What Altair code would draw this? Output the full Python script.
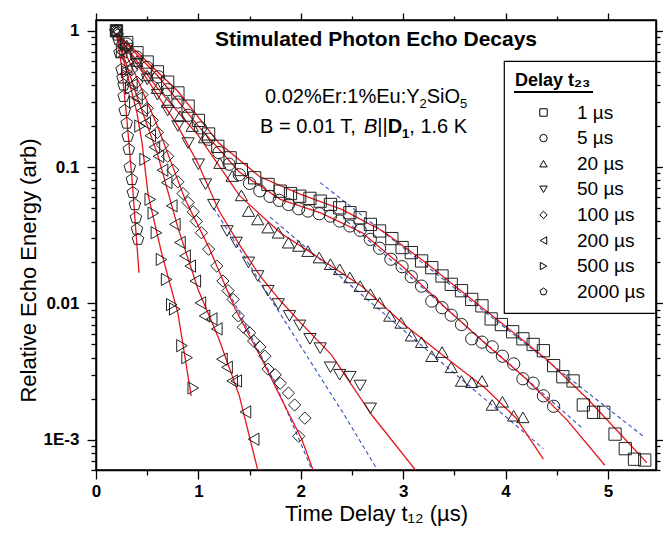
import altair as alt
import pandas as pd

FONT = "Liberation Sans"

series = ["1 µs", "5 µs", "20 µs", "50 µs", "100 µs", "200 µs", "500 µs", "2000 µs"]
PENTAGON = "M0,-1L0.951,-0.309L0.588,0.809L-0.588,0.809L-0.951,-0.309Z"
shapes = ["square", "circle", "triangle-up", "triangle-down", "diamond",
          "triangle-left", "triangle-right", PENTAGON]

# ---- measured echo energies (t in µs, relative energy) ----
t_1 = [0.2, 0.3, 0.4, 0.5, 0.6, 0.7, 0.8, 0.9, 1.0, 1.1, 1.19, 1.31, 1.42, 1.55, 1.68,
       1.80, 1.90, 1.99, 2.09, 2.19, 2.29, 2.38, 2.48, 2.58, 2.68, 2.77, 2.89, 2.99, 3.08,
       3.18, 3.28, 3.38, 3.47, 3.57, 3.67, 3.77, 3.86, 3.96, 4.07, 4.17, 4.27, 4.37, 4.47,
       4.56, 4.66, 4.76, 4.86, 4.96, 5.07, 5.17, 5.26, 5.36]
e_1 = [1.0, 0.82, 0.69, 0.59, 0.50, 0.42, 0.35, 0.28, 0.22, 0.175, 0.142, 0.117, 0.096,
       0.0835, 0.0746, 0.0666, 0.064, 0.0612, 0.059, 0.0563, 0.0532, 0.0503, 0.0463,
       0.0425, 0.038, 0.034, 0.0299, 0.0257, 0.0236, 0.0205, 0.0183, 0.0159, 0.0138,
       0.0124, 0.0107, 0.0096, 0.0077, 0.0070, 0.0062, 0.0055, 0.0050, 0.0045, 0.0035,
       0.0029, 0.0027, 0.0018, 0.00159, 0.00159, 0.0011, 0.00086, 0.00072, 0.00071]

t_5 = [0.2, 0.3, 0.4, 0.5, 0.61, 0.7, 0.8, 0.9, 1.02, 1.1, 1.2, 1.3, 1.4, 1.5, 1.6, 1.7,
       1.79, 1.88, 1.98, 2.07, 2.18, 2.29, 2.38, 2.48, 2.58, 2.68, 2.77, 2.88, 2.99, 3.08,
       3.18, 3.28, 3.38, 3.47, 3.57, 3.67, 3.77, 3.87, 3.97, 4.08, 4.17, 4.27, 4.37, 4.47]
e_5 = [1.0, 0.80, 0.64, 0.54, 0.46, 0.37, 0.30, 0.24, 0.194, 0.16, 0.128, 0.105, 0.088,
       0.076, 0.067, 0.061, 0.057, 0.0532, 0.0495, 0.0476, 0.0455, 0.0437, 0.0402, 0.0370,
       0.0344, 0.0295, 0.0254, 0.0211, 0.0186, 0.0157, 0.0134, 0.0104, 0.0093, 0.0082,
       0.0070, 0.0055, 0.0052, 0.0048, 0.0041, 0.0036, 0.0028, 0.0026, 0.0021, 0.00176]

t_20 = [0.2, 0.3, 0.4, 0.5, 0.6, 0.7, 0.82, 0.94, 1.06, 1.21, 1.33, 1.42, 1.49, 1.58,
        1.68, 1.78, 1.88, 1.98, 2.07, 2.18, 2.29, 2.38, 2.48, 2.58, 2.68, 2.77, 2.87, 2.98,
        3.08, 3.18, 3.28, 3.38, 3.47, 3.57, 3.67, 3.77, 3.87, 3.97, 4.08, 4.17]
e_20 = [1.0, 0.78, 0.6, 0.47, 0.38, 0.3, 0.236, 0.2, 0.165, 0.107, 0.086, 0.062, 0.0476,
        0.0413, 0.036, 0.033, 0.0279, 0.0264, 0.0242, 0.0217, 0.0194, 0.0178, 0.0155,
        0.0134, 0.0117, 0.0101, 0.0081, 0.0072, 0.0058, 0.0052, 0.0041, 0.0044, 0.0034,
        0.0027, 0.00264, 0.0027, 0.0018, 0.0019, 0.0015, 0.00146]

t_50 = [0.2, 0.3, 0.4, 0.5, 0.6, 0.7, 0.8, 0.9, 1.0, 1.07, 1.15, 1.28, 1.37, 1.49, 1.58,
        1.68, 1.78, 1.89, 1.99, 2.09, 2.19, 2.29, 2.38, 2.48, 2.58, 2.68]
e_50 = [1.0, 0.74, 0.57, 0.44, 0.34, 0.26, 0.2, 0.15, 0.105, 0.075, 0.053, 0.034, 0.028,
        0.020, 0.0159, 0.0124, 0.0099, 0.0081, 0.0069, 0.0055, 0.0047, 0.0034, 0.0030,
        0.0029, 0.0025, 0.0017]

t_100 = [0.2, 0.25, 0.3, 0.35, 0.4, 0.45, 0.5, 0.55, 0.6, 0.65, 0.7, 0.75, 0.8, 0.85, 0.90,
         0.95, 0.98, 1.03, 1.10, 1.18, 1.24, 1.29, 1.34, 1.39, 1.44, 1.50, 1.54, 1.60, 1.65,
         1.68, 1.75, 1.80, 1.88, 1.94, 1.98, 2.04]
e_100 = [1.0, 0.8, 0.64, 0.52, 0.42, 0.34, 0.27, 0.22, 0.18, 0.145, 0.12, 0.095, 0.078,
         0.064, 0.055, 0.047, 0.040, 0.033, 0.025, 0.0188, 0.0146, 0.0124, 0.0107, 0.0081,
         0.0067, 0.0061, 0.0053, 0.0048, 0.0041, 0.0033, 0.0030, 0.0026, 0.0022, 0.0018,
         0.00106, 0.00144]

t_200 = [0.2, 0.25, 0.3, 0.35, 0.4, 0.45, 0.48, 0.53, 0.57, 0.61, 0.65, 0.69, 0.74, 0.77,
         0.82, 0.87, 0.92, 0.97, 1.02, 1.06, 1.13, 1.18, 1.23, 1.28, 1.33, 1.37, 1.46, 1.54]
e_200 = [1.0, 0.7, 0.52, 0.4, 0.32, 0.26, 0.21, 0.17, 0.14, 0.12, 0.095, 0.077, 0.052,
         0.038, 0.028, 0.0223, 0.0188, 0.0146, 0.0101, 0.0081, 0.0077, 0.0065, 0.0039,
         0.0034, 0.0027, 0.0027, 0.0016, 0.00101]

t_500 = [0.2, 0.25, 0.3, 0.34, 0.38, 0.43, 0.48, 0.53, 0.56, 0.59, 0.64, 0.69, 0.74, 0.77,
         0.84, 0.89, 0.95]
e_500 = [1.0, 0.7, 0.5, 0.38, 0.3, 0.2, 0.114, 0.058, 0.046, 0.033, 0.021, 0.015, 0.0098,
         0.0091, 0.0049, 0.0040, 0.0024]

t_2000 = [0.19, 0.21, 0.22, 0.23, 0.25, 0.26, 0.27, 0.27, 0.28, 0.30, 0.31, 0.32, 0.33,
          0.35, 0.36, 0.38, 0.39, 0.40, 0.41]
e_2000 = [1.0, 0.93, 0.86, 0.69, 0.52, 0.45, 0.40, 0.33, 0.26, 0.21, 0.168, 0.135, 0.10,
          0.081, 0.065, 0.053, 0.0425, 0.035, 0.0295]

# ---- model fits (red solid) ----
f_1_t = [0.2, 0.4, 0.8, 1.2, 1.6, 2.0, 2.4, 2.8, 3.2, 3.6, 4.0, 4.4, 4.8, 5.2, 5.38]
f_1_e = [0.95, 0.70, 0.36, 0.15, 0.085, 0.063, 0.049, 0.034, 0.0205, 0.0118, 0.0068,
         0.0039, 0.0020, 0.00095, 0.00068]
f_5_t = [0.2, 0.6, 1.0, 1.4, 1.8, 2.2, 2.6, 3.0, 3.4, 3.8, 4.2, 4.6, 4.97]
f_5_e = [0.95, 0.47, 0.2, 0.092, 0.058, 0.046, 0.033, 0.0185, 0.0095, 0.0051, 0.0028,
         0.0014, 0.00065]
f_20_t = [0.2, 0.6, 1.0, 1.4, 1.8, 2.2, 2.6, 3.0, 3.4, 3.8, 4.1, 4.37]
f_20_e = [0.95, 0.38, 0.17, 0.062, 0.033, 0.021, 0.0133, 0.0071, 0.0041, 0.0024, 0.00145,
          0.00072]
f_50_t = [0.2, 0.5, 0.8, 1.0, 1.2, 1.4, 1.6, 1.8, 2.0, 2.3, 2.7, 3.12]
f_50_e = [0.95, 0.44, 0.2, 0.105, 0.048, 0.027, 0.016, 0.0105, 0.0072, 0.0042, 0.0015,
          0.0006]
f_100_t = [0.2, 0.4, 0.6, 0.87, 1.1, 1.36, 1.62, 1.81, 2.01, 2.12]
f_100_e = [0.95, 0.45, 0.2, 0.058, 0.026, 0.0091, 0.0039, 0.0020, 0.00101, 0.0006]
f_200_t = [0.2, 0.4, 0.6, 0.8, 1.0, 1.2, 1.4, 1.58]
f_200_e = [0.95, 0.33, 0.125, 0.036, 0.0125, 0.0055, 0.0021, 0.0006]
f_500_t = [0.2, 0.3, 0.4, 0.45, 0.51, 0.64, 0.8, 0.93]
f_500_e = [0.95, 0.5, 0.25, 0.15, 0.062, 0.0236, 0.0085, 0.0021]
f_2000_t = [0.2, 0.25, 0.3, 0.35, 0.42]
f_2000_e = [0.95, 0.55, 0.23, 0.085, 0.0168]

# ---- single-exponential tails (blue dashed) ----
d_1_t = [2.19, 5.36]
d_1_e = [0.077, 0.00104]
d_5_t = [2.45, 4.76]
d_5_e = [0.040, 0.0012]
d_20_t = [1.7, 4.37]
d_20_e = [0.043, 0.00086]
d_50_t = [1.15, 1.62, 2.43, 2.75]
d_50_e = [0.05, 0.0137, 0.0015, 0.0006]
d_100_t = [1.3, 1.76, 2.11]
d_100_e = [0.012, 0.0025, 0.0006]

x_ticks = [0.0, 0.5, 1.0, 1.5, 2.0, 2.5, 3.0, 3.5, 4.0, 4.5, 5.0]
y_ticks = [float(f"{k}e{e}") for e in (-4, -3, -2, -1) for k in range(1, 10)
           if 6e-4 <= float(f"{k}e{e}") <= 1.2] + [1.0]


def frame(pairs):
    rows = []
    for name, ts, es in pairs:
        if len(ts) != len(es):
            raise ValueError(f"length mismatch in {name}: {len(ts)} vs {len(es)}")
        for i, (t, e) in enumerate(zip(ts, es)):
            rows.append({"series": name, "t": t, "e": e, "i": i})
    return pd.DataFrame(rows)


pts = frame([(series[0], t_1, e_1), (series[1], t_5, e_5), (series[2], t_20, e_20),
             (series[3], t_50, e_50), (series[4], t_100, e_100), (series[5], t_200, e_200),
             (series[6], t_500, e_500), (series[7], t_2000, e_2000)])
fits = frame([(series[0], f_1_t, f_1_e), (series[1], f_5_t, f_5_e), (series[2], f_20_t, f_20_e),
              (series[3], f_50_t, f_50_e), (series[4], f_100_t, f_100_e),
              (series[5], f_200_t, f_200_e), (series[6], f_500_t, f_500_e),
              (series[7], f_2000_t, f_2000_e)])
dashes = frame([(series[0], d_1_t, d_1_e), (series[1], d_5_t, d_5_e), (series[2], d_20_t, d_20_e),
                (series[3], d_50_t, d_50_e), (series[4], d_100_t, d_100_e)])

x_scale = alt.Scale(domain=[0, 5.47], nice=False, zero=False)
y_scale = alt.Scale(type="log", domain=[6e-4, 1.2], nice=False)

X_MAJOR = "abs(datum.value - round(datum.value)) < 1e-6"
Y_DEC = "abs(log(datum.value)/LN10 - round(log(datum.value)/LN10)) < 1e-6"

common = dict(domainColor="black", domainWidth=1.5, tickColor="black", tickWidth=1.3,
              grid=False, labelFont=FONT, titleFont=FONT, labelColor="black",
              titleColor="black", labelOverlap=False, labelFlush=False)

x_bottom = alt.Axis(orient="bottom", values=x_ticks, title="Time Delay t₁₂ (µs)",
                    labelExpr=f"{X_MAJOR} ? format(datum.value, 'd') : ''",
                    tickSize={"condition": {"test": X_MAJOR, "value": 9}, "value": 5},
                    labelFontSize=17, labelFontWeight="bold", labelPadding=4,
                    titleFontSize=22, titleFontWeight="normal", titlePadding=4, **common)
y_left = alt.Axis(orient="left", values=y_ticks, title="Relative Echo Energy (arb)",
                  labelExpr=(f"{Y_DEC} ? (datum.value > 0.5 ? '1' : datum.value > 0.05 ? '0.1'"
                             " : datum.value > 0.005 ? '0.01' : '1E-3') : ''"),
                  tickSize={"condition": {"test": Y_DEC, "value": 9}, "value": 5},
                  labelFontSize=17, labelFontWeight="bold", labelPadding=8,
                  titleFontSize=22, titleFontWeight="normal", titleX=-68, titleY=250,
                  titleAngle=270, titleAlign="center", titleBaseline="middle", **common)
x_top = alt.Axis(orient="top", values=x_ticks, title="", labels=False,
                 tickSize={"condition": {"test": X_MAJOR, "value": 7}, "value": 4}, **common)
y_right = alt.Axis(orient="right", values=y_ticks, title="", labels=False,
                   tickSize={"condition": {"test": Y_DEC, "value": 7}, "value": 4}, **common)

legend = alt.Legend(title="Delay t₂₃", orient="none", legendX=408, legendY=41,
                    strokeColor="black", padding=11,
                    titleFont=FONT, titleFontSize=18, titleFontWeight="bold", titleColor="black",
                    titlePadding=13, labelFont=FONT, labelFontSize=19, labelColor="black",
                    symbolSize=55, symbolStrokeColor="black", symbolStrokeWidth=1,
                    symbolOffset=19, labelOffset=24, rowPadding=5.6)

points = alt.Chart(pts).mark_point(filled=False, size=150, strokeWidth=1, color="#222",
                                   opacity=1, clip=True).encode(
    x=alt.X("t:Q", scale=x_scale, axis=x_bottom),
    y=alt.Y("e:Q", scale=y_scale, axis=y_left),
    shape=alt.Shape("series:N", scale=alt.Scale(domain=series, range=shapes),
                    sort=series, legend=legend),
)

fit_lines = alt.Chart(fits).mark_line(color="#e8161b", strokeWidth=1.3, clip=True).encode(
    x=alt.X("t:Q", scale=x_scale, axis=x_top),
    y=alt.Y("e:Q", scale=y_scale, axis=y_right),
    detail="series:N",
    order="i:Q",
)
dash_lines = alt.Chart(dashes).mark_line(color="#2f4fbf", strokeWidth=1.1, strokeDash=[4, 3],
                                         clip=True).encode(
    x=alt.X("t:Q", scale=x_scale, axis=x_top),
    y=alt.Y("e:Q", scale=y_scale, axis=y_right),
    detail="series:N",
    order="i:Q",
)

one = pd.DataFrame({"a": [0]})


def label(txt, x, y, size=20, weight="normal", style="normal", align="left",
          baseline="alphabetic"):
    return alt.Chart(one).mark_text(text=txt, fontSize=size, fontWeight=weight,
                                    fontStyle=style, align=align, baseline=baseline,
                                    font=FONT, color="black").encode(
        x=alt.value(x), y=alt.value(y))


texts = [
    label("Stimulated Photon Echo Decays", 280, 20, size=21, weight="bold", align="center",
          baseline="middle"),
    label("0.02%Er:1%Eu:Y", 169, 83),
    label("2", 323.5, 88, size=13),
    label("SiO", 330.7, 83),
    label("5", 364, 88, size=13),
    label("B = 0.01 T,", 164, 113),
    label("B", 268, 113, style="italic"),
    label("||", 281.3, 113),
    label("D", 291.7, 113, weight="bold"),
    label("1", 306.1, 118, size=13, weight="bold"),
    label(", 1.6 K", 313.3, 113),
]

underline = alt.Chart(one).mark_rect(color="black").encode(
    x=alt.value(418), x2=alt.value(497), y=alt.value(71), y2=alt.value(73))

lines = alt.layer(dash_lines, fit_lines)
chart = alt.layer(lines, points, underline, *texts).resolve_axis(
    x="independent", y="independent"
).properties(
    width=560, height=450,
    padding={"left": 96, "top": 20, "right": 7, "bottom": 65},
    autosize=alt.AutoSizeParams(type="none"),
).configure_view(stroke="black", strokeWidth=1.5).configure_legend(
    cornerRadius=0, strokeWidth=1.2
)

chart.save("out.html", embed_options={"renderer": "svg", "actions": False})
